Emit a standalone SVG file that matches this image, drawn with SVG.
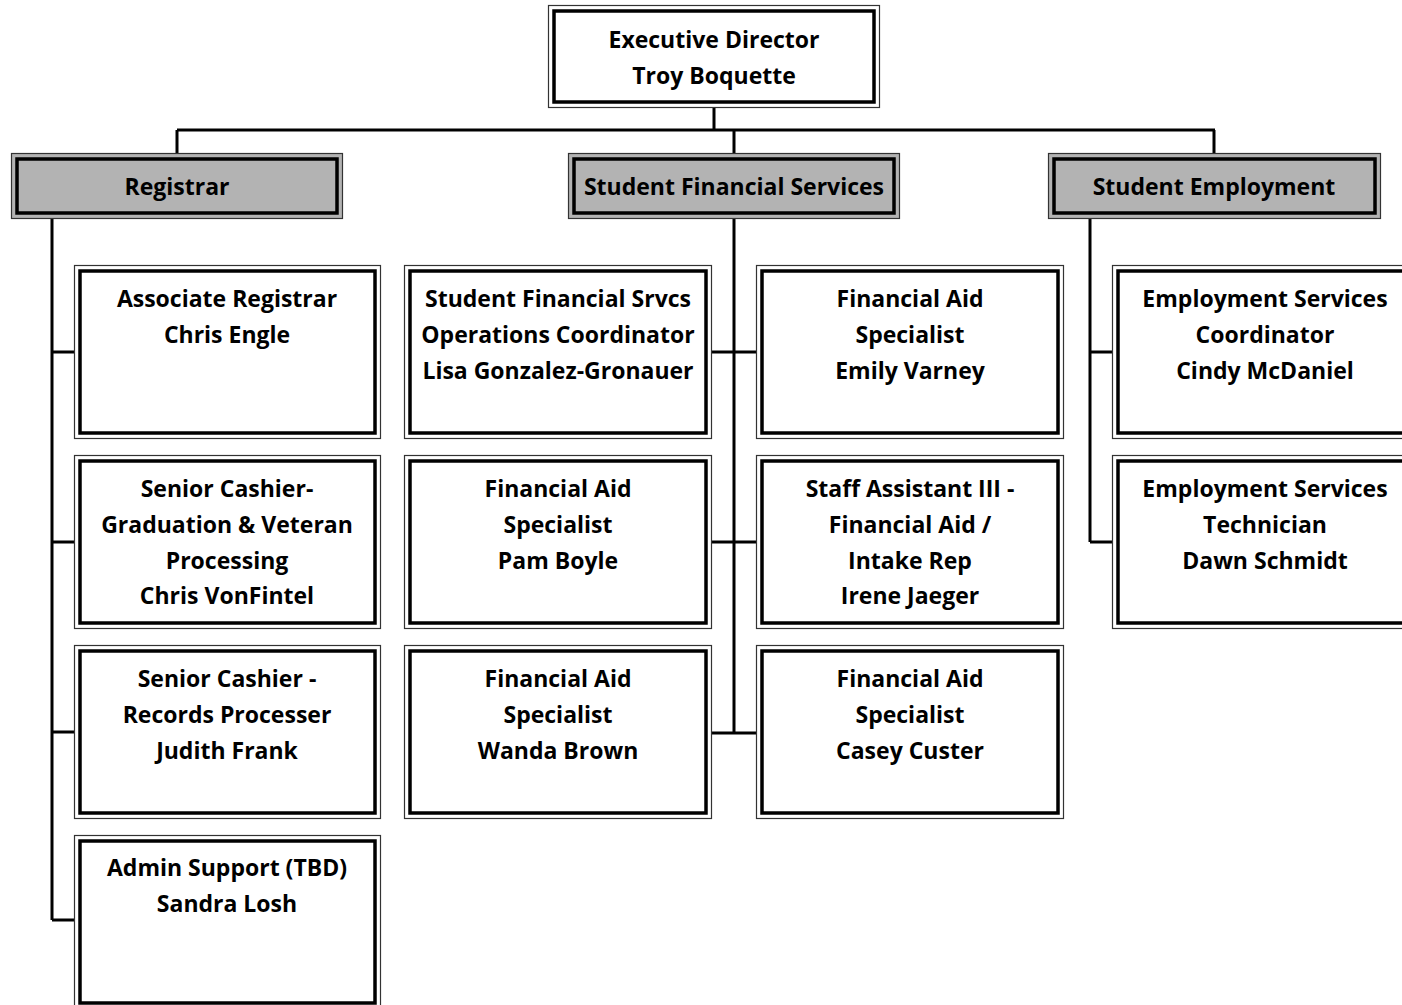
<svg xmlns="http://www.w3.org/2000/svg" width="1402" height="1005" viewBox="0 0 1402 1005">
<style>
.o{fill:none;stroke:#333;stroke-width:1.2}
.i{fill:none;stroke:#000;stroke-width:3.5}
.w{fill:#fff}
.g{fill:#b3b3b3}
.c{fill:none;stroke:#000;stroke-width:3}
text{font-family:"Open Sans",Lato,"Liberation Sans",sans-serif;font-weight:bold;font-size:23px;fill:#000;text-anchor:middle}
</style>
<g id="connectors">
<path class="c" d="M714,108V130M177,130H1215M177,130V153M734,130V153M1214,130V153"/>
<path class="c" d="M52,219V920M52,352H74M52,542H74M52,732H74M52,920H74"/>
<path class="c" d="M734,219V733M711,352H756M711,542H756M711,733H756"/>
<path class="c" d="M1090,219V542M1090,352H1112M1090,542H1112"/>
</g>
<g id="exec">
<rect class="w" x="548.5" y="5.5" width="331" height="102"/>
<rect class="o" x="548.5" y="5.5" width="331" height="102"/>
<rect class="i" x="554" y="11" width="320" height="91"/>
<text x="714" y="48">Executive Director</text>
<text x="714" y="84">Troy Boquette</text>
</g>
<g id="registrar">
<rect class="g" x="11.5" y="153.5" width="331" height="65"/>
<rect class="o" x="11.5" y="153.5" width="331" height="65"/>
<rect class="i" x="17" y="159" width="320" height="54"/>
<text x="177" y="195">Registrar</text>
</g>
<g id="sfs">
<rect class="g" x="568.5" y="153.5" width="331" height="65"/>
<rect class="o" x="568.5" y="153.5" width="331" height="65"/>
<rect class="i" x="574" y="159" width="320" height="54"/>
<text x="734" y="195">Student Financial Services</text>
</g>
<g id="se">
<rect class="g" x="1048.5" y="153.5" width="332" height="65"/>
<rect class="o" x="1048.5" y="153.5" width="332" height="65"/>
<rect class="i" x="1054" y="159" width="321" height="54"/>
<text x="1214" y="195">Student Employment</text>
</g>
<g id="assoc-registrar">
<rect class="w" x="74.5" y="265.5" width="306" height="173"/>
<rect class="o" x="74.5" y="265.5" width="306" height="173"/>
<rect class="i" x="80" y="271" width="295" height="162"/>
<text x="227" y="307">Associate Registrar</text>
<text x="227" y="343">Chris Engle</text>
</g>
<g id="senior-cashier-grad">
<rect class="w" x="74.5" y="455.5" width="306" height="173"/>
<rect class="o" x="74.5" y="455.5" width="306" height="173"/>
<rect class="i" x="80" y="461" width="295" height="162"/>
<text x="227" y="497">Senior Cashier-</text>
<text x="227" y="533">Graduation &amp; Veteran</text>
<text x="227" y="569">Processing</text>
<text x="227" y="604">Chris VonFintel</text>
</g>
<g id="senior-cashier-records">
<rect class="w" x="74.5" y="645.5" width="306" height="173"/>
<rect class="o" x="74.5" y="645.5" width="306" height="173"/>
<rect class="i" x="80" y="651" width="295" height="162"/>
<text x="227" y="687">Senior Cashier -</text>
<text x="227" y="723">Records Processer</text>
<text x="227" y="759">Judith Frank</text>
</g>
<g id="admin-support">
<rect class="w" x="74.5" y="835.5" width="306" height="173"/>
<rect class="o" x="74.5" y="835.5" width="306" height="173"/>
<rect class="i" x="80" y="841" width="295" height="162"/>
<text x="227" y="876">Admin Support (TBD)</text>
<text x="227" y="912">Sandra Losh</text>
</g>
<g id="sfs-ops">
<rect class="w" x="404.5" y="265.5" width="307" height="173"/>
<rect class="o" x="404.5" y="265.5" width="307" height="173"/>
<rect class="i" x="410" y="271" width="296" height="162"/>
<text x="558" y="307">Student Financial Srvcs</text>
<text x="558" y="343">Operations Coordinator</text>
<text x="558" y="379">Lisa Gonzalez-Gronauer</text>
</g>
<g id="fa-varney">
<rect class="w" x="756.5" y="265.5" width="307" height="173"/>
<rect class="o" x="756.5" y="265.5" width="307" height="173"/>
<rect class="i" x="762" y="271" width="296" height="162"/>
<text x="910" y="307">Financial Aid</text>
<text x="910" y="343">Specialist</text>
<text x="910" y="379">Emily Varney</text>
</g>
<g id="fa-boyle">
<rect class="w" x="404.5" y="455.5" width="307" height="173"/>
<rect class="o" x="404.5" y="455.5" width="307" height="173"/>
<rect class="i" x="410" y="461" width="296" height="162"/>
<text x="558" y="497">Financial Aid</text>
<text x="558" y="533">Specialist</text>
<text x="558" y="569">Pam Boyle</text>
</g>
<g id="staff-assistant">
<rect class="w" x="756.5" y="455.5" width="307" height="173"/>
<rect class="o" x="756.5" y="455.5" width="307" height="173"/>
<rect class="i" x="762" y="461" width="296" height="162"/>
<text x="910" y="497">Staff Assistant III -</text>
<text x="910" y="533">Financial Aid /</text>
<text x="910" y="569">Intake Rep</text>
<text x="910" y="604">Irene Jaeger</text>
</g>
<g id="fa-brown">
<rect class="w" x="404.5" y="645.5" width="307" height="173"/>
<rect class="o" x="404.5" y="645.5" width="307" height="173"/>
<rect class="i" x="410" y="651" width="296" height="162"/>
<text x="558" y="687">Financial Aid</text>
<text x="558" y="723">Specialist</text>
<text x="558" y="759">Wanda Brown</text>
</g>
<g id="fa-custer">
<rect class="w" x="756.5" y="645.5" width="307" height="173"/>
<rect class="o" x="756.5" y="645.5" width="307" height="173"/>
<rect class="i" x="762" y="651" width="296" height="162"/>
<text x="910" y="687">Financial Aid</text>
<text x="910" y="723">Specialist</text>
<text x="910" y="759">Casey Custer</text>
</g>
<g id="emp-coordinator">
<rect class="w" x="1112.5" y="265.5" width="307" height="173"/>
<rect class="o" x="1112.5" y="265.5" width="307" height="173"/>
<rect class="i" x="1118" y="271" width="296" height="162"/>
<text x="1265" y="307">Employment Services</text>
<text x="1265" y="343">Coordinator</text>
<text x="1265" y="379">Cindy McDaniel</text>
</g>
<g id="emp-technician">
<rect class="w" x="1112.5" y="455.5" width="307" height="173"/>
<rect class="o" x="1112.5" y="455.5" width="307" height="173"/>
<rect class="i" x="1118" y="461" width="296" height="162"/>
<text x="1265" y="497">Employment Services</text>
<text x="1265" y="533">Technician</text>
<text x="1265" y="569">Dawn Schmidt</text>
</g>
</svg>
